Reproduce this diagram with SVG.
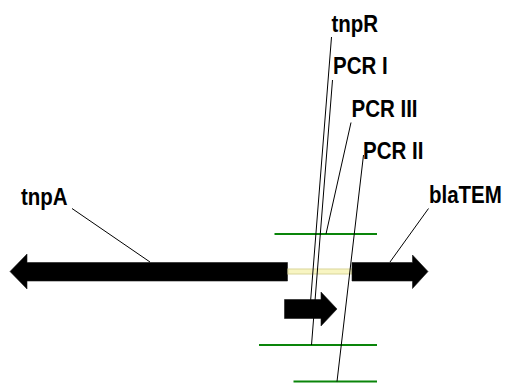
<svg xmlns="http://www.w3.org/2000/svg" width="505" height="383" viewBox="0 0 505 383">
<style>
.gene{fill:#000;stroke:#1a1a1a;stroke-width:0.6}
.band{fill:#f8f5c2;stroke:#d9d59a;stroke-width:1}
.pcr{stroke:#0a850a;stroke-width:2;fill:none}
.lead{stroke:#000;stroke-width:1;fill:none}
.lbl{font-family:"Liberation Sans",Arial,sans-serif;font-weight:bold;font-size:20.5px;fill:#000}
</style>
<rect width="505" height="383" fill="#fff"/>
<g id="tnpA">
<polygon class="gene" points="10,271.5 27,254 27,262.5 287.5,262.5 287.5,281 27,281 27,289"/>
<text class="lbl" transform="translate(21,205) scale(1,1.14)">tnpA</text>
</g>
<g id="spacer">
<rect class="band" x="288" y="269" width="64" height="5"/>
</g>
<g id="blaTEM">
<polygon class="gene" points="352,262.5 412.5,262.5 412.5,255 428,271.5 412.5,288.5 412.5,281 352,281"/>
<text class="lbl" transform="translate(429,202.5) scale(1,1.14)">blaTEM</text>
</g>
<g id="tnpR">
<polygon class="gene" points="284.5,299.5 321,299.5 321,292 337,309 321,326 321,318.5 284.5,318.5"/>
<text class="lbl" transform="translate(331.5,31.5) scale(1,1.14)">tnpR</text>
</g>
<g id="pcrI">
<line class="pcr" x1="259" y1="345" x2="377" y2="345"/>
<text class="lbl" transform="translate(333,73.5) scale(1,1.14)">PCR I</text>
</g>
<g id="pcrIII">
<line class="pcr" x1="274.5" y1="234" x2="377" y2="234"/>
<text class="lbl" transform="translate(351.5,116.5) scale(1,1.14)">PCR III</text>
</g>
<g id="pcrII">
<line class="pcr" x1="293.5" y1="381.5" x2="377" y2="381.5"/>
<text class="lbl" transform="translate(363,158.5) scale(1,1.14)">PCR II</text>
</g>
<g id="connectors">
<line class="lead" x1="72" y1="208.5" x2="150" y2="262"/>
<line class="lead" x1="428.5" y1="208.5" x2="390" y2="262"/>
<line class="lead" x1="331.5" y1="37" x2="310.5" y2="302"/>
<line class="lead" x1="332.5" y1="80" x2="311.5" y2="345"/>
<line class="lead" x1="351" y1="122.5" x2="326" y2="234"/>
<line class="lead" x1="363.5" y1="155" x2="337" y2="381.5"/>
</g>
</svg>
